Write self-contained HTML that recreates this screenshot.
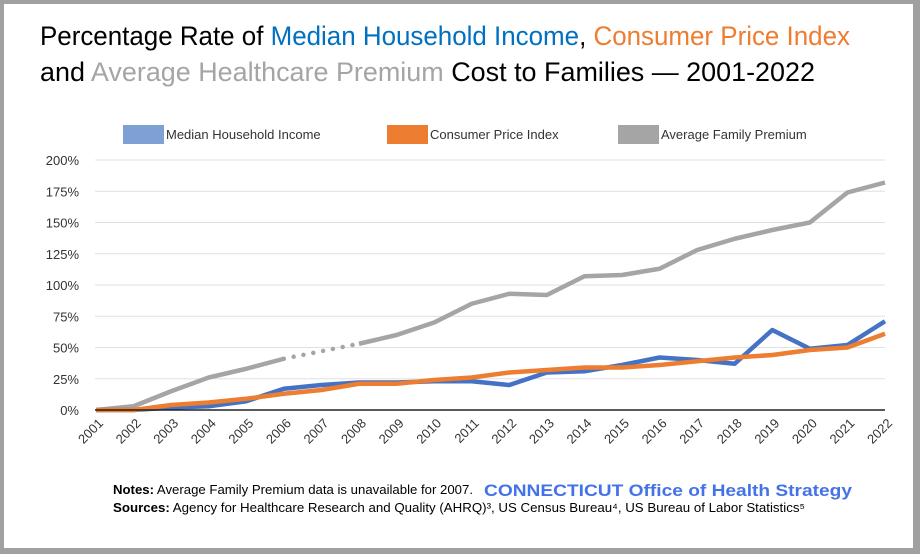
<!DOCTYPE html>
<html><head><meta charset="utf-8"><style>
html,body{margin:0;padding:0;background:#fff}
svg{display:block;font-family:"Liberation Sans",sans-serif}
</style></head><body>
<svg width="920" height="554" viewBox="0 0 920 554">
<rect x="0" y="0" width="920" height="554" fill="#a0a0a0"/>
<rect x="4" y="4" width="909" height="544" fill="#fff"/>
<text x="40" y="45" font-size="27" textLength="810" lengthAdjust="spacingAndGlyphs">Percentage Rate of <tspan fill="#0070c0">Median Household Income</tspan>, <tspan fill="#ed7d31">Consumer Price Index</tspan></text>
<text x="40" y="81" font-size="27" textLength="775" lengthAdjust="spacingAndGlyphs">and <tspan fill="#a5a5a5">Average Healthcare Premium</tspan> Cost to Families — 2001-2022</text>
<g>
<rect x="123" y="125" width="41" height="19" fill="#7ea0d4"/>
<text x="166" y="139" font-size="13" fill="#333">Median Household Income</text>
<rect x="387" y="125" width="41" height="19" fill="#ed7d31"/>
<text x="430" y="139" font-size="13" fill="#333">Consumer Price Index</text>
<rect x="618" y="125" width="41" height="19" fill="#a5a5a5"/>
<text x="661" y="139" font-size="13" fill="#333">Average Family Premium</text>
</g>
<g id="grid"></g>
<g id="marks"></g>
<g id="axes"></g>
<text x="113" y="494" font-size="13" fill="#000" textLength="360" lengthAdjust="spacingAndGlyphs"><tspan font-weight="bold">Notes:</tspan>  Average Family Premium data is unavailable for 2007.</text>
<text x="484" y="496" font-size="17" font-weight="bold" fill="#4472e8" textLength="368" lengthAdjust="spacingAndGlyphs">CONNECTICUT Office of Health Strategy</text>
<text x="113" y="512" font-size="13" fill="#000" textLength="692" lengthAdjust="spacingAndGlyphs"><tspan font-weight="bold">Sources:</tspan> Agency for Healthcare Research and Quality (AHRQ)³, US Census Bureau⁴, US Bureau of Labor Statistics⁵</text>
</svg>
<script>
const years=[2001,2002,2003,2004,2005,2006,2007,2008,2009,2010,2011,2012,2013,2014,2015,2016,2017,2018,2019,2020,2021,2022];
const income=[0,0,2,3,7,17,20,22,22,23,23,20,30,31,36,42,40,37,64,49,52,71];
const cpi=[0,0,4,6,9,13,16,21,21,24,26,30,32,34,34,36,39,42,44,48,50,61];
const premium=[0,3,15,26,33,41,null,53,60,70,85,93,92,107,108,113,128,137,144,150,174,182];
const yTicks=[0,25,50,75,100,125,150,175,200];
const NS='http://www.w3.org/2000/svg';
const x0=96,x1=885,yBase=410,yTop=160;
const xS=i=>x0+(x1-x0)*i/(years.length-1);
const yS=v=>yBase-(yBase-yTop)*v/200;
function mk(tag,attrs,parent){const e=document.createElementNS(NS,tag);for(const k in attrs)e.setAttribute(k,attrs[k]);parent.appendChild(e);return e;}
const grid=document.getElementById('grid'),marks=document.getElementById('marks'),axes=document.getElementById('axes');
yTicks.forEach(t=>{
 const l=mk('line',{x1:95,x2:885,y1:yS(t),y2:yS(t),stroke:'#e0e0e0','stroke-width':1},grid);
 
 
 const tx=mk('text',{x:79,y:yS(t)+5,'font-size':13,'text-anchor':'end',fill:'#333'},axes);
 tx.textContent=t+'%';
 
 
});
const ax=mk('line',{x1:95,x2:885,y1:yBase,y2:yBase,stroke:'#222','stroke-width':1.5},axes);


years.forEach((yr,i)=>{
 const tx=mk('text',{x:xS(i)+8,y:yBase+14,'font-size':13,'text-anchor':'end',fill:'#333',transform:`rotate(-45 ${xS(i)+8} ${yBase+14})`},axes);
 tx.textContent=yr;
 
 
});
function series(vals,color,name){
 let segs=[],cur=[];
 vals.forEach((v,i)=>{if(v==null){if(cur.length)segs.push(cur);cur=[];}else cur.push([xS(i),yS(v)]);});
 if(cur.length)segs.push(cur);
 segs.forEach((s,k)=>{
  const p=mk('polyline',{points:s.map(q=>q.join(',')).join(' '),fill:'none',stroke:color,'stroke-width':4.5,'stroke-linejoin':'round'},marks);
  
  
 });
 for(let i=1;i<vals.length-1;i++){
  if(vals[i]==null&&vals[i-1]!=null&&vals[i+1]!=null){
   const d=mk('line',{x1:xS(i-1),y1:yS(vals[i-1]),x2:xS(i+1),y2:yS(vals[i+1]),stroke:color,'stroke-width':4.5,'stroke-dasharray':'0 10','stroke-linecap':'round'},marks);
   
   
  }
 }
}
series(premium,'#a5a5a5','premium');
series(income,'#4472c4','income');
series(cpi,'#ed7d31','cpi');
</script>
</body></html>
